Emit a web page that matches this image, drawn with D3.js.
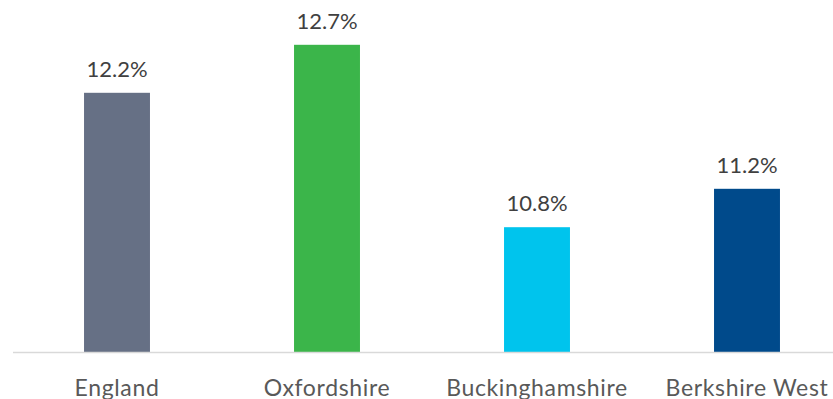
<!DOCTYPE html>
<html>
<head>
<meta charset="utf-8">
<script src="https://cdn.jsdelivr.net/npm/d3@7"></script>
<style>
  html, body { margin: 0; padding: 0; background: #fff; }
  svg { display: block; }
</style>
</head>
<body>
<svg id="chart" width="833" height="399"></svg>
<script>
// Share of population by area (%)
const categories = ["England", "Oxfordshire", "Buckinghamshire", "Berkshire West"];
const values = [12.2, 12.7, 10.8, 11.2];
const colors = ["#667085", "#3bb54a", "#00c4ed", "#004a8b"];
const yDomain = [9.5, 13];

const svg = d3.select("#chart");
const baseline = 352;

const x = d3.scaleBand()
  .domain(categories)
  .range([12, 852])
  .paddingInner(0.686)
  .paddingOuter(0.343);

const y = d3.scaleLinear()
  .domain(yDomain)
  .range([baseline, 16]);

// bars
svg.append("g")
  .selectAll("rect")
  .data(categories)
  .join("rect")
  .attr("x", d => x(d))
  .attr("width", x.bandwidth())
  .attr("y", (d, i) => y(values[i]))
  .attr("height", (d, i) => baseline - y(values[i]))
  .attr("fill", (d, i) => colors[i]);

// category axis
const axis = svg.append("g")
  .attr("transform", `translate(0,${baseline})`)
  .call(d3.axisBottom(x).tickSize(0).tickPadding(0));
axis.select(".domain")
  .attr("d", "M13,0.5H833")
  .attr("stroke", "#d9d9d9")
  .attr("stroke-width", 1.5);
axis.selectAll(".tick text")
  .attr("y", 43.5)
  .attr("dy", null)
  .attr("fill", "#595959")
  .attr("font-family", "Lato, 'Open Sans', sans-serif")
  .attr("font-size", 23)
  .attr("letter-spacing", "0.65px");

// value labels
svg.append("g")
  .selectAll("text")
  .data(categories)
  .join("text")
  .attr("x", d => x(d) + x.bandwidth() / 2)
  .attr("y", (d, i) => y(values[i]) - 16)
  .attr("text-anchor", "middle")
  .attr("fill", "#404040")
  .attr("font-family", "Lato, 'Open Sans', sans-serif")
  .attr("font-size", 22)
  .text((d, i) => values[i].toFixed(1) + "%");
</script>
</body>
</html>
